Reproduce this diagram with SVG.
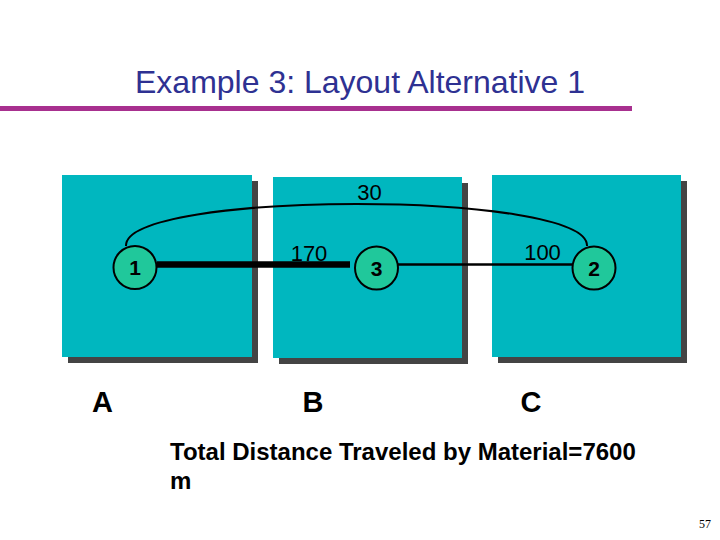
<svg xmlns="http://www.w3.org/2000/svg" width="720" height="540" viewBox="0 0 720 540">
<style>
.shadow{fill:#444444}
.box{fill:#00B7BF}
.node circle{fill:#20C89B;stroke:#000;stroke-width:2}
.num{font-family:"Liberation Sans",Arial,sans-serif;font-size:21px;font-weight:bold;fill:#000;text-anchor:middle}
.lbl{font-family:"Liberation Sans",Arial,sans-serif;font-size:22px;fill:#000}
.big{font-family:"Liberation Sans",Arial,sans-serif;font-size:29px;font-weight:bold;fill:#000;text-anchor:middle}
</style>
<rect width="720" height="540" fill="#fff"/>
<text x="135" y="93" font-family="Liberation Sans, Arial, sans-serif" font-size="32" fill="#2E3192">Example 3: Layout Alternative 1</text>
<rect x="0" y="106" width="632" height="5" fill="#A8308F"/>
<g id="areaA">
<rect class="shadow" x="68" y="181" width="190" height="182"/>
<rect class="box" x="62" y="175" width="190" height="182"/>
<text class="big" x="102.5" y="412">A</text>
</g>
<g id="areaB">
<rect class="shadow" x="279" y="183" width="189" height="181"/>
<rect class="box" x="273" y="177" width="189" height="181"/>
<text class="big" x="313" y="412">B</text>
</g>
<g id="areaC">
<rect class="shadow" x="498" y="181" width="189" height="182"/>
<rect class="box" x="492" y="175" width="189" height="182"/>
<text class="big" x="531" y="412">C</text>
</g>
<g id="connectors" fill="none" stroke="#000">
<path d="M126,246 C124,190 589,190 587,246" stroke-width="2"/>
<line x1="157" y1="264.5" x2="350" y2="264.5" stroke-width="6.5"/>
<line x1="398" y1="264.5" x2="572" y2="264.5" stroke-width="2.5"/>
</g>
<text class="lbl" x="369.5" y="200" text-anchor="middle">30</text>
<text class="lbl" x="309" y="261" text-anchor="middle">170</text>
<text class="lbl" x="542.5" y="260" text-anchor="middle">100</text>
<g id="node1" class="node">
<circle cx="135" cy="267.5" r="21.5"/>
<text class="num" x="135" y="275">1</text>
</g>
<g id="node3" class="node">
<circle cx="376.5" cy="268" r="21.5"/>
<text class="num" x="376.5" y="276">3</text>
</g>
<g id="node2" class="node">
<circle cx="594" cy="268" r="21.5"/>
<text class="num" x="594" y="276">2</text>
</g>
<text x="170" y="460" font-family="Liberation Sans, Arial, sans-serif" font-size="24" font-weight="bold" fill="#000">Total Distance Traveled by Material=7600</text>
<text x="170" y="489" font-family="Liberation Sans, Arial, sans-serif" font-size="24" font-weight="bold" fill="#000">m</text>
<text x="711" y="528" font-family="Liberation Serif, Times New Roman, serif" font-size="12" fill="#000" text-anchor="end">57</text>
</svg>
